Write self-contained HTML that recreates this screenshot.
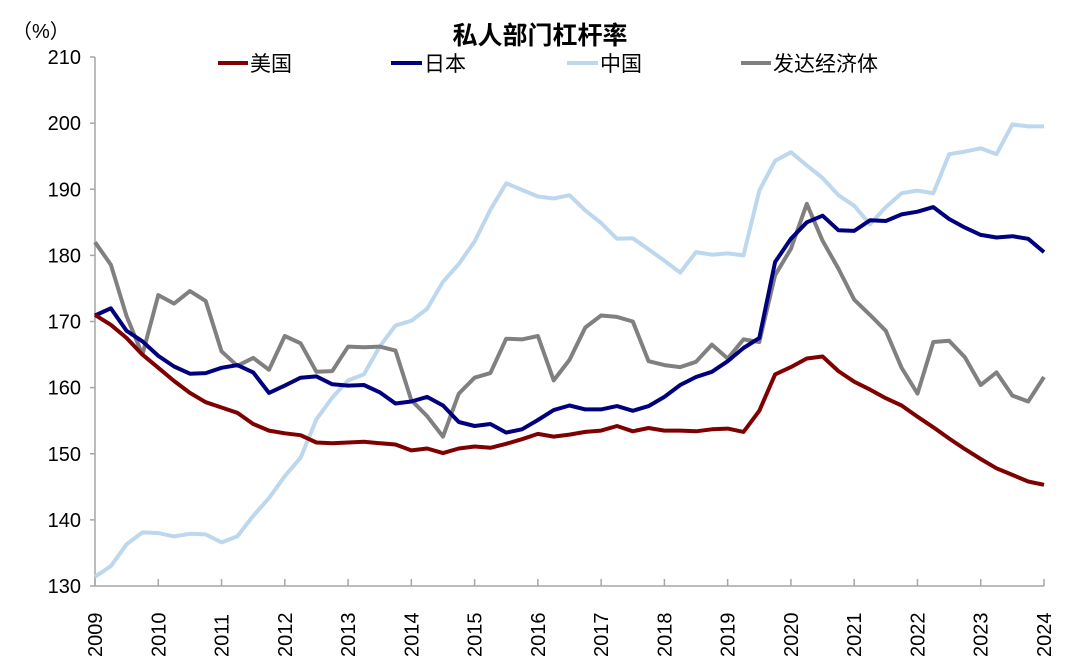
<!DOCTYPE html>
<html><head><meta charset="utf-8"><style>
html,body{margin:0;padding:0;background:#fff;}
svg{display:block;font-family:"Liberation Sans","Noto Sans CJK SC",sans-serif;}
</style></head><body>
<svg id="c" width="1080" height="672" xmlns="http://www.w3.org/2000/svg">
<text x="12" y="38" font-size="20" fill="#000">（%）</text>
<text x="540" y="44" font-size="25" font-weight="bold" text-anchor="middle" fill="#000">私人部门杠杆率</text>
<g font-size="21" fill="#000">
<line x1="218" y1="63" x2="248" y2="63" stroke="#7f0000" stroke-width="4"/><text x="250" y="71">美国</text>
<line x1="391" y1="63" x2="422" y2="63" stroke="#00007f" stroke-width="4"/><text x="424" y="71">日本</text>
<line x1="567" y1="63" x2="598" y2="63" stroke="#bdd7ee" stroke-width="4"/><text x="600" y="71">中国</text>
<line x1="741" y1="63" x2="771" y2="63" stroke="#808080" stroke-width="4"/><text x="773" y="71">发达经济体</text>
</g>
<g id="ax" stroke="#a6a6a6" stroke-width="1.5" fill="none"></g>
<g id="lab" font-size="20" fill="#000"></g>
<g id="ser" fill="none" stroke-width="4" stroke-linejoin="round"></g>
</svg>
<script>
var X0=95,X1=1044,Y0=586,S=(586-57)/80;
function Y(v){return Y0-(v-130)*S;}
var ax=document.getElementById('ax'),lab=document.getElementById('lab'),ser=document.getElementById('ser');
var h='<line x1="'+X0+'" y1="57" x2="'+X0+'" y2="'+Y0+'"/><line x1="'+X0+'" y1="'+Y0+'" x2="'+X1+'" y2="'+Y0+'"/>';
var l='';
for(var v=130;v<=210;v+=10){var y=Y(v);h+='<line x1="'+(X0-5)+'" y1="'+y+'" x2="'+X0+'" y2="'+y+'"/>';l+='<text x="81" y="'+(y+7)+'" text-anchor="end">'+v+'</text>';}
for(var i=0;i<=15;i++){var x=X0+i*(X1-X0)/15;h+='<line x1="'+x+'" y1="'+(Y0-7)+'" x2="'+x+'" y2="'+Y0+'"/>';l+='<text transform="translate('+(x+7)+',657) rotate(-90)">'+(2009+i)+'</text>';}
ax.innerHTML=h;lab.innerHTML=l;
var D={
"#bdd7ee":[131.4,133,136.3,138.1,138,137.5,137.9,137.8,136.6,137.5,140.6,143.3,146.6,149.4,155.2,158.5,161.1,162,166.2,169.4,170.1,171.9,176,178.7,182.1,186.9,190.9,189.9,188.9,188.6,189.1,186.8,184.9,182.5,182.6,180.9,179.2,177.4,180.5,180.1,180.3,180,189.8,194.3,195.6,193.6,191.7,189.1,187.5,184.7,187.3,189.4,189.8,189.4,195.3,195.7,196.2,195.3,199.8,199.5,199.5],
"#808080":[182,178.6,170.8,165,174,172.7,174.6,173.1,165.5,163.3,164.5,162.7,167.8,166.7,162.4,162.5,166.2,166.1,166.2,165.6,158.1,155.7,152.6,159.1,161.5,162.2,167.4,167.3,167.8,161.1,164.2,169.1,170.9,170.7,170,164,163.4,163.1,163.9,166.5,164.4,167.3,166.9,177,181,187.8,182.2,178,173.3,171,168.6,163,159.1,166.9,167.1,164.6,160.4,162.3,158.8,157.9,161.6],
"#00007f":[170.9,172,168.6,167,164.8,163.2,162.1,162.2,163,163.4,162.3,159.2,160.3,161.5,161.7,160.5,160.3,160.4,159.3,157.6,157.9,158.6,157.3,154.8,154.2,154.5,153.2,153.7,155.1,156.6,157.3,156.7,156.7,157.2,156.5,157.2,158.6,160.4,161.6,162.4,164,166,167.5,179,182.5,185,186,183.8,183.7,185.3,185.2,186.2,186.6,187.3,185.5,184.2,183.1,182.7,182.9,182.5,180.5],
"#7f0000":[171,169.5,167.5,165,163,161,159.2,157.8,157,156.2,154.5,153.5,153.1,152.8,151.7,151.6,151.7,151.8,151.6,151.4,150.5,150.8,150.1,150.8,151.1,150.9,151.5,152.2,153,152.6,152.9,153.3,153.5,154.2,153.4,153.9,153.5,153.5,153.4,153.7,153.8,153.3,156.5,162,163.1,164.4,164.7,162.5,160.9,159.7,158.4,157.3,155.6,154,152.3,150.7,149.2,147.8,146.8,145.8,145.3]};
var s='';
for(var c in D){var p=D[c].map(function(v,i){return (X0+i*(X1-X0)/60).toFixed(1)+','+Y(v).toFixed(1);}).join(' ');s+='<polyline stroke="'+c+'" points="'+p+'"/>';}
ser.innerHTML=s;
</script>
</body></html>
